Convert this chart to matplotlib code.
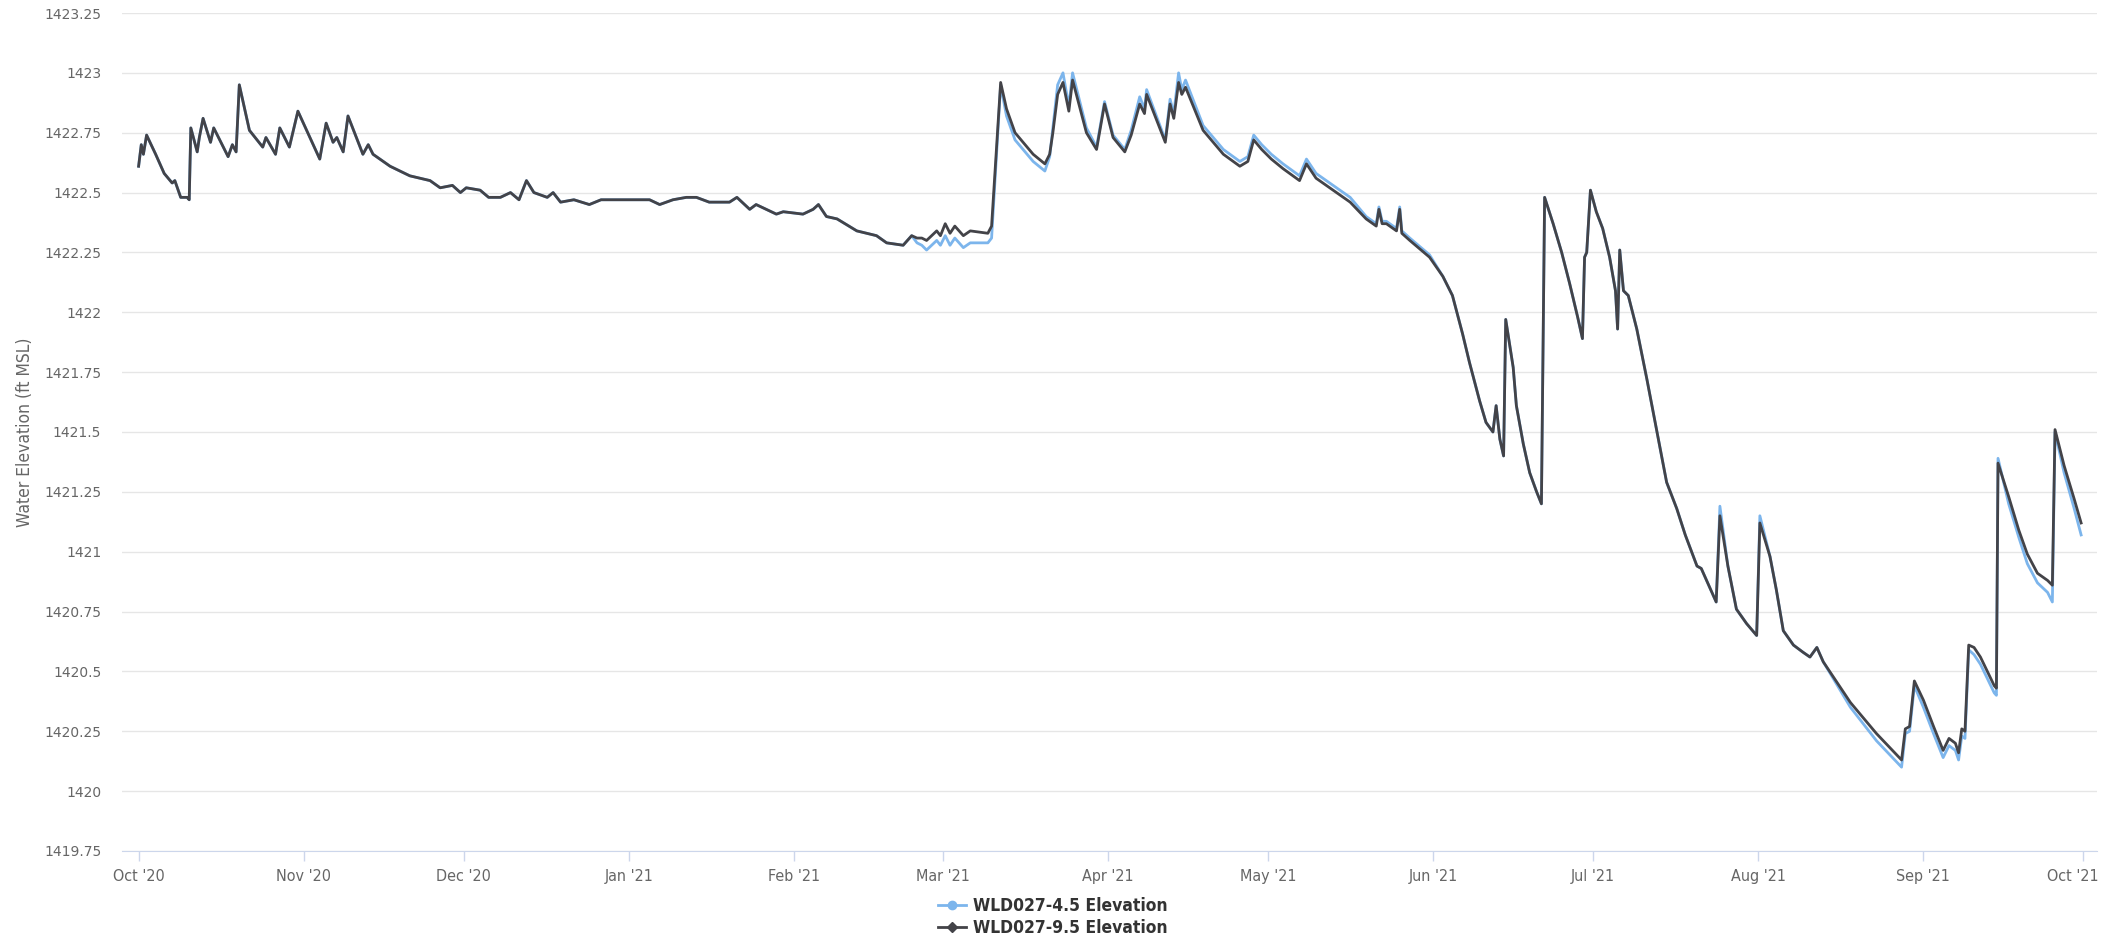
"""Water elevation at WLD027 (4.5 and 9.5 sensors), Oct 2020 - Oct 2021."""
import numpy as np
import pandas as pd
import matplotlib
matplotlib.use("Agg")
import matplotlib.pyplot as plt
import matplotlib.dates as mdates
from matplotlib.lines import Line2D

# --- data ---
start = pd.Timestamp("2020-10-01")

# days after 1 Oct 2020
day_offset = [
    # Oct - Dec
    0.0, 0.5, 0.9, 1.5, 3.2, 4.2, 4.8, 6.3,
    6.8, 7.9, 9.1, 9.5, 9.8, 11.0, 11.4, 12.1,
    13.5, 14.1, 16.8, 17.6, 18.3, 18.9, 20.8, 23.3,
    23.9, 25.7, 26.5, 28.3, 29.9, 34.0, 35.2, 36.5,
    37.2, 38.4, 39.3, 42.1, 43.1, 44.0, 47.2, 50.9,
    54.7, 56.6, 58.9, 60.4, 61.5, 64.1, 65.7, 67.9,
    69.8, 71.4, 72.8, 74.2, 76.7, 77.8, 79.2, 81.7,
    84.6, 86.8, 90.3,
    # Jan - early Mar
    95.9, 97.8, 100.3, 102.8, 104.7, 107.1, 110.9, 112.3,
    114.7, 115.9, 119.7, 121.0, 124.7, 126.6, 127.6, 129.1,
    131.1, 134.8, 138.5, 140.4, 143.5, 145.1, 146.1, 147.0,
    147.9, 149.8, 150.5, 151.4, 152.3, 153.2, 154.8, 156.1,
    159.4, 160.1,
    # Mar - May
    161.8, 162.9, 164.5, 167.9, 170.1, 171.0, 171.6, 172.5,
    173.5, 174.6, 175.3, 177.9, 179.8, 181.3, 182.9, 185.1,
    186.3, 187.9, 188.8, 189.2, 192.7, 193.6, 194.3, 195.2,
    195.8, 196.5, 199.8, 203.6, 206.7, 208.2, 209.3, 210.8,
    212.6, 214.8, 217.9, 219.2, 221.0, 224.2, 227.4, 230.4,
    232.3, 232.8, 233.4, 234.2, 236.1, 236.7, 237.1,
    # late May - Aug
    238.6, 242.3, 244.8, 246.6, 248.5, 249.8, 251.7, 252.9,
    254.2, 254.8, 255.5, 256.2, 256.6, 258.0, 258.6, 259.9,
    261.1, 262.4, 263.3, 263.9, 265.5, 267.1, 268.6, 270.1,
    271.0, 271.4, 271.8, 272.5, 273.6, 274.8, 276.1, 277.2,
    277.6, 278.0, 278.7, 279.6, 281.2, 283.1, 285.0, 286.8,
    288.7, 290.3, 292.5, 293.3, 296.1, 296.8, 298.3, 299.9,
    301.8, 303.7, 304.3, 306.2, 307.4, 308.7, 310.6, 312.4,
    313.7, 315.0, 316.2,
    # late Aug - Sep
    321.3, 326.2, 330.9, 331.6, 332.4, 333.3, 335.0, 336.9,
    338.7, 339.8, 341.0, 341.6, 342.2, 342.8, 343.5, 344.5,
    345.7, 347.0, 348.3, 348.7, 349.0, 351.0, 352.9, 354.5,
    356.4, 358.3, 359.2, 359.7, 361.4, 363.3, 364.6,
]

elev_9_5 = [
    1422.61, 1422.70, 1422.66, 1422.74, 1422.66, 1422.61, 1422.58, 1422.54,
    1422.55, 1422.48, 1422.48, 1422.47, 1422.77, 1422.67, 1422.73, 1422.81,
    1422.71, 1422.77, 1422.65, 1422.70, 1422.67, 1422.95, 1422.76, 1422.69,
    1422.73, 1422.66, 1422.77, 1422.69, 1422.84, 1422.64, 1422.79, 1422.71,
    1422.73, 1422.67, 1422.82, 1422.66, 1422.70, 1422.66, 1422.61, 1422.57,
    1422.55, 1422.52, 1422.53, 1422.50, 1422.52, 1422.51, 1422.48, 1422.48,
    1422.50, 1422.47, 1422.55, 1422.50, 1422.48, 1422.50, 1422.46, 1422.47,
    1422.45, 1422.47, 1422.47,
    1422.47, 1422.45, 1422.47, 1422.48, 1422.48, 1422.46, 1422.46, 1422.48,
    1422.43, 1422.45, 1422.41, 1422.42, 1422.41, 1422.43, 1422.45, 1422.40,
    1422.39, 1422.34, 1422.32, 1422.29, 1422.28, 1422.32, 1422.31, 1422.31,
    1422.30, 1422.34, 1422.32, 1422.37, 1422.33, 1422.36, 1422.32, 1422.34,
    1422.33, 1422.36,
    1422.96, 1422.85, 1422.75, 1422.66, 1422.62, 1422.66, 1422.75, 1422.91,
    1422.96, 1422.84, 1422.97, 1422.75, 1422.68, 1422.87, 1422.73, 1422.67,
    1422.74, 1422.87, 1422.83, 1422.91, 1422.71, 1422.87, 1422.81, 1422.96,
    1422.91, 1422.94, 1422.76, 1422.66, 1422.61, 1422.63, 1422.72, 1422.68,
    1422.64, 1422.60, 1422.55, 1422.62, 1422.56, 1422.51, 1422.46, 1422.39,
    1422.36, 1422.43, 1422.37, 1422.37, 1422.34, 1422.43, 1422.33,
    1422.30, 1422.23, 1422.15, 1422.07, 1421.91, 1421.79, 1421.63, 1421.54,
    1421.50, 1421.61, 1421.47, 1421.40, 1421.97, 1421.77, 1421.61, 1421.45,
    1421.33, 1421.25, 1421.20, 1422.48, 1422.37, 1422.25, 1422.12, 1421.98,
    1421.89, 1422.23, 1422.25, 1422.51, 1422.42, 1422.35, 1422.23, 1422.09,
    1421.93, 1422.26, 1422.09, 1422.07, 1421.93, 1421.72, 1421.50, 1421.29,
    1421.18, 1421.07, 1420.94, 1420.93, 1420.79, 1421.15, 1420.94, 1420.76,
    1420.70, 1420.65, 1421.12, 1420.98, 1420.84, 1420.67, 1420.61, 1420.58,
    1420.56, 1420.60, 1420.54,
    1420.37, 1420.24, 1420.13, 1420.26, 1420.27, 1420.46, 1420.38, 1420.27,
    1420.17, 1420.22, 1420.20, 1420.16, 1420.26, 1420.25, 1420.61, 1420.60,
    1420.56, 1420.50, 1420.44, 1420.43, 1421.37, 1421.23, 1421.09, 1420.99,
    1420.91, 1420.88, 1420.86, 1421.51, 1421.36, 1421.22, 1421.12,
]

elev_4_5 = [
    1422.61, 1422.70, 1422.66, 1422.74, 1422.66, 1422.61, 1422.58, 1422.54,
    1422.55, 1422.48, 1422.48, 1422.47, 1422.77, 1422.67, 1422.73, 1422.81,
    1422.71, 1422.77, 1422.65, 1422.70, 1422.67, 1422.95, 1422.76, 1422.69,
    1422.73, 1422.66, 1422.77, 1422.69, 1422.84, 1422.64, 1422.79, 1422.71,
    1422.73, 1422.67, 1422.82, 1422.66, 1422.70, 1422.66, 1422.61, 1422.57,
    1422.55, 1422.52, 1422.53, 1422.50, 1422.52, 1422.51, 1422.48, 1422.48,
    1422.50, 1422.47, 1422.55, 1422.50, 1422.48, 1422.50, 1422.46, 1422.47,
    1422.45, 1422.47, 1422.47,
    1422.47, 1422.45, 1422.47, 1422.48, 1422.48, 1422.46, 1422.46, 1422.48,
    1422.43, 1422.45, 1422.41, 1422.42, 1422.41, 1422.43, 1422.45, 1422.40,
    1422.39, 1422.34, 1422.32, 1422.29, 1422.28, 1422.32, 1422.29, 1422.28,
    1422.26, 1422.30, 1422.28, 1422.32, 1422.28, 1422.31, 1422.27, 1422.29,
    1422.29, 1422.31,
    1422.95, 1422.82, 1422.72, 1422.63, 1422.59, 1422.65, 1422.77, 1422.95,
    1423.00, 1422.86, 1423.00, 1422.77, 1422.69, 1422.88, 1422.74, 1422.68,
    1422.76, 1422.90, 1422.85, 1422.93, 1422.72, 1422.89, 1422.83, 1423.00,
    1422.93, 1422.97, 1422.78, 1422.68, 1422.63, 1422.65, 1422.74, 1422.70,
    1422.66, 1422.62, 1422.57, 1422.64, 1422.58, 1422.53, 1422.48, 1422.40,
    1422.37, 1422.44, 1422.38, 1422.38, 1422.35, 1422.44, 1422.34,
    1422.31, 1422.24, 1422.15, 1422.07, 1421.91, 1421.79, 1421.63, 1421.54,
    1421.50, 1421.61, 1421.47, 1421.40, 1421.97, 1421.77, 1421.61, 1421.45,
    1421.33, 1421.25, 1421.20, 1422.48, 1422.37, 1422.25, 1422.12, 1421.98,
    1421.89, 1422.23, 1422.25, 1422.51, 1422.42, 1422.35, 1422.23, 1422.09,
    1421.93, 1422.26, 1422.09, 1422.07, 1421.93, 1421.72, 1421.50, 1421.29,
    1421.18, 1421.07, 1420.94, 1420.93, 1420.79, 1421.19, 1420.94, 1420.76,
    1420.70, 1420.65, 1421.15, 1420.98, 1420.84, 1420.67, 1420.61, 1420.58,
    1420.56, 1420.60, 1420.54,
    1420.35, 1420.21, 1420.10, 1420.24, 1420.25, 1420.44, 1420.35, 1420.24,
    1420.14, 1420.19, 1420.17, 1420.13, 1420.23, 1420.22, 1420.59, 1420.57,
    1420.53, 1420.47, 1420.41, 1420.40, 1421.39, 1421.20, 1421.06, 1420.95,
    1420.87, 1420.83, 1420.79, 1421.50, 1421.33, 1421.18, 1421.07,
]

series_names = ["WLD027-4.5 Elevation", "WLD027-9.5 Elevation"]
series_colors = ["#7cb5ec", "#434348"]

y_ticks = [1419.75, 1420, 1420.25, 1420.5, 1420.75, 1421, 1421.25, 1421.5,
           1421.75, 1422, 1422.25, 1422.5, 1422.75, 1423, 1423.25]
y_tick_labels = ["1419.75", "1420", "1420.25", "1420.5", "1420.75", "1421",
                 "1421.25", "1421.5", "1421.75", "1422", "1422.25", "1422.5",
                 "1422.75", "1423", "1423.25"]
month_ticks = pd.date_range("2020-10-01", "2021-10-01", freq="MS")
month_labels = ["Oct '20", "Nov '20", "Dec '20", "Jan '21", "Feb '21", "Mar '21",
                "Apr '21", "May '21", "Jun '21", "Jul '21", "Aug '21", "Sep '21",
                "Oct '21"]

assert len(day_offset) == len(elev_9_5) == len(elev_4_5)
dates = start + pd.to_timedelta(day_offset, unit="D")

GREY = "#666666"
cond = dict(family="DejaVu Sans", stretch="condensed")

# --- figure ---
fig = plt.figure(figsize=(21.05, 9.43), dpi=100)
ax = fig.add_axes([0.058, 0.0976, 0.938, 0.8886])

ax.plot(dates, elev_4_5, color=series_colors[0], lw=2.0, zorder=3)
ax.plot(dates, elev_9_5, color=series_colors[1], lw=2.0, zorder=4)

ax.set_ylim(1419.75, 1423.25)
ax.set_xlim(start - pd.Timedelta(days=3.1), start + pd.Timedelta(days=367.5))

ax.set_yticks(y_ticks)
ax.set_yticklabels(y_tick_labels, family="DejaVu Sans")
ax.yaxis.grid(True, color="#e6e6e6", lw=1.0)
ax.set_axisbelow(True)
ax.tick_params(axis="y", length=0, pad=15, labelsize=10, labelcolor=GREY)

# last month label is drawn by hand, nudged left so it stays inside the figure
ax.set_xticks(month_ticks)
ax.set_xticklabels(month_labels[:-1] + [""], **cond)
ax.tick_params(axis="x", length=7, width=1, color="#ccd6eb", pad=6,
               labelsize=11.5, labelcolor=GREY)
ax.annotate(month_labels[-1], xy=(mdates.date2num(month_ticks[-1]), 0),
            xycoords=ax.get_xaxis_transform(),
            xytext=(-10, -18), textcoords="offset pixels", ha="center", va="top",
            fontsize=11.5, color=GREY, **cond)

for s in ["top", "right", "left"]:
    ax.spines[s].set_visible(False)
ax.spines["bottom"].set_color("#ccd6eb")

ax.set_ylabel("Water Elevation (ft MSL)", fontsize=12.5, color=GREY,
              labelpad=7, **cond)

handles = [
    Line2D([], [], color=series_colors[0], lw=2, marker="o", ms=6),
    Line2D([], [], color=series_colors[1], lw=2, marker="D", ms=5),
]
fig.legend(handles, series_names, loc="center", bbox_to_anchor=(0.5, 1 - 917 / 943),
           ncol=1, frameon=False, handlelength=1.6, handletextpad=0.4,
           labelspacing=0.2, borderpad=0,
           prop={"family": "DejaVu Sans", "stretch": "condensed",
                 "weight": "bold", "size": 12.5})
for t in fig.legends[0].get_texts():
    t.set_color("#333333")

fig.savefig("out.png", dpi=100, facecolor="white")
